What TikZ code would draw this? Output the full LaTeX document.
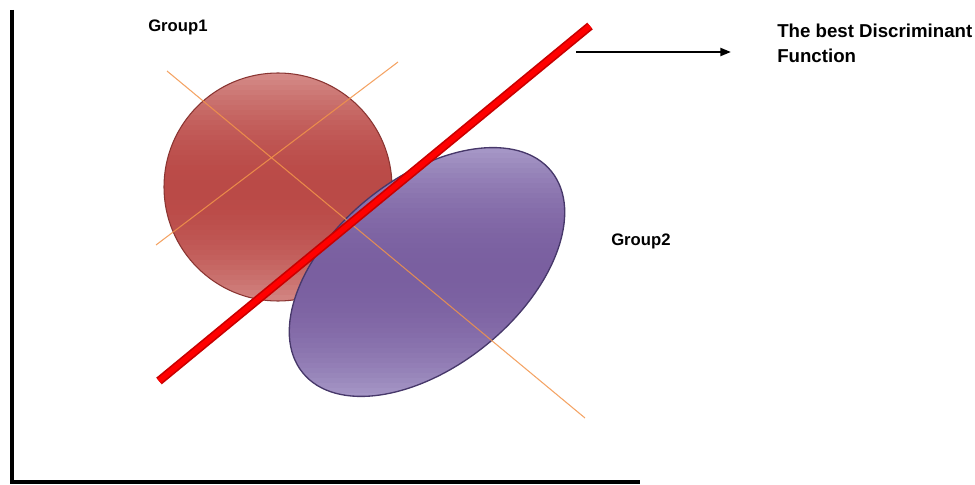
\documentclass[tikz,border=0pt]{standalone}
\usepackage{fontspec}
\setsansfont{Liberation Sans}
\usetikzlibrary{arrows.meta, positioning}
\definecolor{cred}{HTML}{BA4A47}
\definecolor{credlt}{HTML}{D68E8B}
\definecolor{credrim}{HTML}{8A3532}
\definecolor{cpurple}{HTML}{7A5FA0}
\definecolor{cpurplelt}{HTML}{A99BC9}
\definecolor{cpurplerim}{HTML}{47386A}
\definecolor{corange}{HTML}{F2944A}
\definecolor{cbar}{HTML}{FF0000}
\definecolor{cbardk}{HTML}{C80000}
\tikzset{
  every picture/.style={font=\sffamily\bfseries, x=0.75pt, y=-0.75pt},
  grp/.style={font=\sffamily\bfseries\fontsize{12.5}{15}\selectfont, inner sep=0pt, anchor=base west},
  fn/.style={font=\sffamily\bfseries\fontsize{14}{18.75}\selectfont, inner sep=0pt, align=left, anchor=north west},
  axis/.style={line width=3pt, draw=black, line join=miter},
  axisline/.style={draw=corange, line width=0.8pt, opacity=0.85},
  bar/.style={line width=#1, line cap=butt},
  arrow/.style={-{Triangle[length=8pt, width=6pt]}, draw=black, line width=1.6pt},
}

\begin{document}
\begin{tikzpicture}
  \useasboundingbox (0,0) rectangle (975,485);
  % axes
  \draw[axis] (12,10) -- (12,482) -- (640,482);
  % group 1 (circle), banded fill light-dark-light
  \begin{scope}
    \clip (278,187) circle [radius=114];
    \foreach \i in {0,...,47} {
      \pgfmathsetmacro{\t}{100*(1-(\i-23.5)*(\i-23.5)/552.25)}
      \fill[cred!\t!credlt] (160,70+\i*5) rectangle (396,76+\i*5);
    }
  \end{scope}
  \draw[credrim, line width=0.8pt] (278,187) circle [radius=114];
  % group 2 (ellipse)
  \begin{scope}
    \clip[rotate around={39:(427,272)}] (427,272) ellipse [x radius=160, y radius=94];
    \foreach \i in {0,...,51} {
      \pgfmathsetmacro{\t}{100*(1-(\i-25.5)*(\i-25.5)/650.25)}
      \fill[cpurple!\t!cpurplelt] (285,143+\i*5) rectangle (569,149+\i*5);
    }
  \end{scope}
  \draw[cpurplerim, line width=1pt, rotate around={39:(427,272)}] (427,272) ellipse [x radius=160, y radius=94];
  % principal axes
  \draw[axisline] (167,71) -- (585,418);
  \draw[axisline] (398,62) -- (156,245);
  % discriminant line
  \draw[bar=6.5pt, cbardk] (159,381) -- (590,26);
  \draw[bar=4pt, cbar] (159,381) -- (590,26);
  % labels
  \node[grp] (g1) at (148,32) {Group1};
  \node[grp] (g2) at (611,245) {Group2};
  \node[fn] (best) at (777,24) {The best Discriminant\\Function};
  \coordinate (from) at (576,52);
  \coordinate (to) at (731,52);
  \draw[arrow] (from) -- (to);
\end{tikzpicture}
\end{document}
